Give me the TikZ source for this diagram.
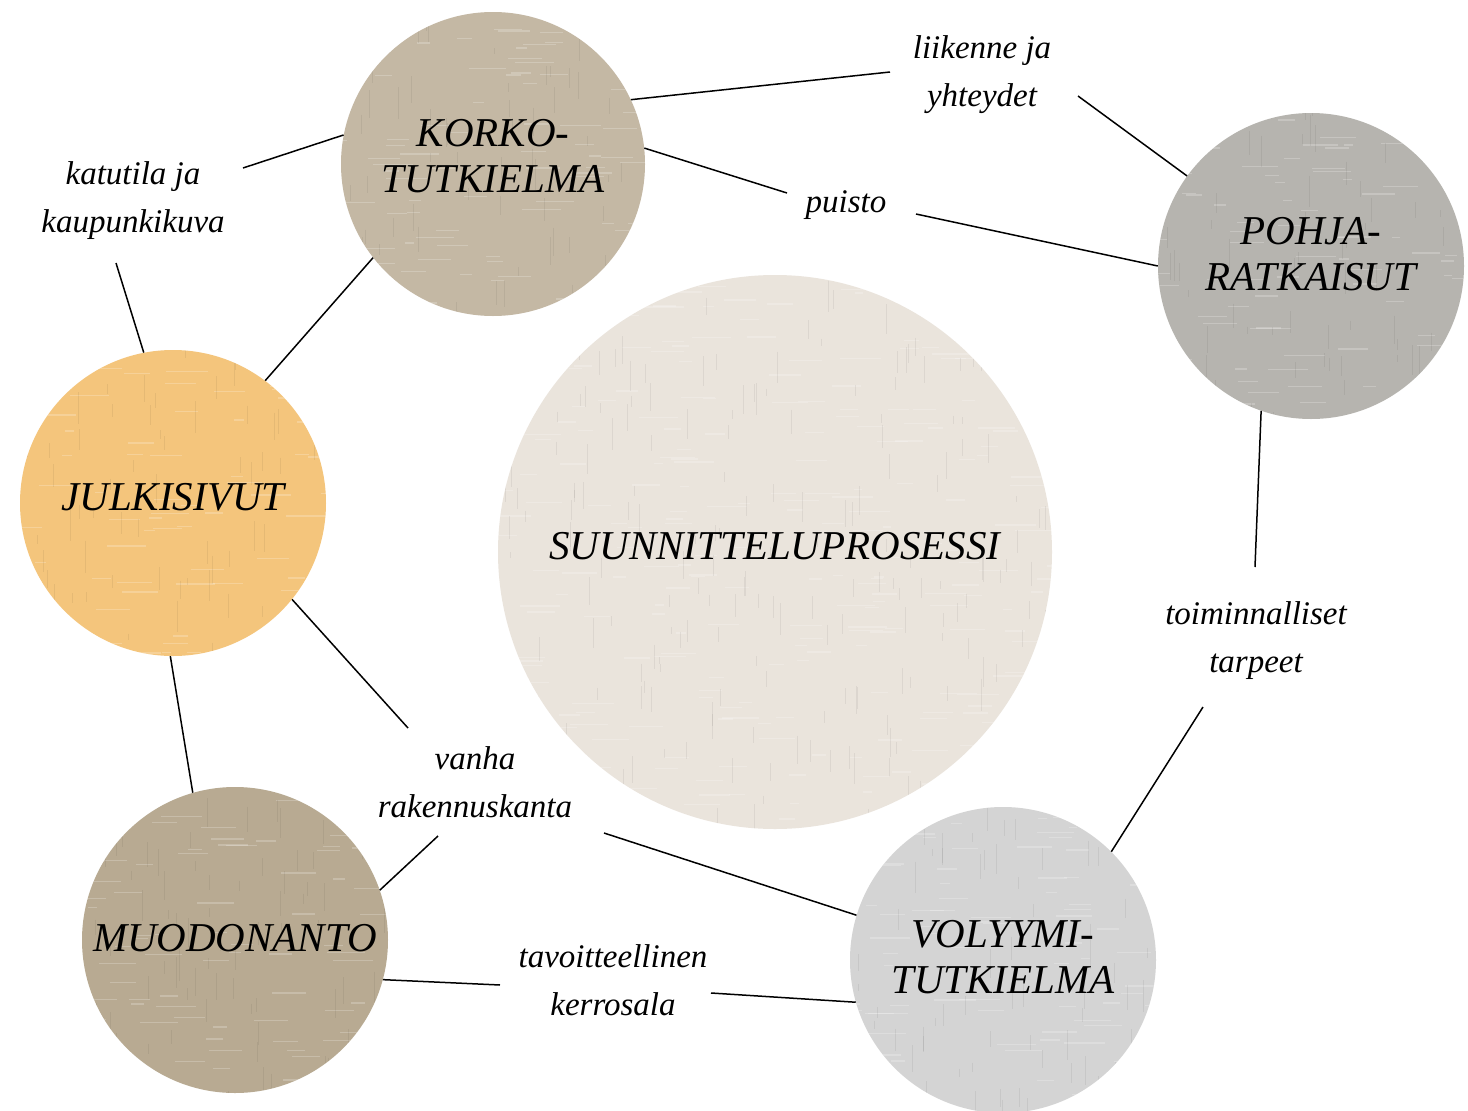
\documentclass[tikz,border=0pt]{standalone}
\usepackage{fontspec}
\setmainfont{Liberation Serif}
\definecolor{ckorko}{RGB}{196,184,164}
\definecolor{cpohja}{RGB}{182,180,175}
\definecolor{cjulk}{RGB}{244,197,124}
\definecolor{cmuod}{RGB}{184,170,146}
\definecolor{cvol}{RGB}{212,212,212}
\definecolor{csuun}{RGB}{234,228,220}
\begin{document}
\begin{tikzpicture}[x=1pt,y=-1pt,
  weave/.style={path picture={
    \pgfmathsetseed{#1}
    \foreach \i in {1,...,260}{
      \pgfmathsetmacro\xx{rand*280}\pgfmathsetmacro\yy{rand*280}\pgfmathsetmacro\ll{8+34*rnd}
      \draw[white, opacity=0.22, line width=1.3pt]
        ([shift={(\xx,\yy)}]path picture bounding box.center) -- ++(\ll,0);
    }
    \foreach \i in {1,...,220}{
      \pgfmathsetmacro\xx{rand*280}\pgfmathsetmacro\yy{rand*280}\pgfmathsetmacro\ll{6+26*rnd}
      \draw[black, opacity=0.06, line width=1pt]
        ([shift={(\xx,\yy)}]path picture bounding box.center) -- ++(0,\ll);
    }
  }},
  hub/.style={circle, inner sep=0pt, minimum size=#1},
  hubtext/.style={align=center, inner sep=0pt, font=\fontsize{41}{46}\selectfont\itshape},
  lab/.style={inner sep=0pt, align=center, font=\fontsize{33}{48}\selectfont\itshape},
  conn/.style={line width=1.5pt, draw=black}]
\useasboundingbox[fill=white] (0,0) rectangle (1468,1111);
% hubs
\node[hub=554pt, fill=csuun, weave=11,
  label={[hubtext, yshift=6pt]center:SUUNNITTELUPROSESSI}] (suun) at (775,552) {};
\node[hub=304pt, fill=ckorko, weave=12,
  label={[hubtext, yshift=8pt]center:KORKO-\\TUTKIELMA}] (korko) at (493,164) {};
\node[hub=306pt, fill=cpohja, weave=13,
  label={[hubtext, yshift=12pt]center:POHJA-\\RATKAISUT}] (pohja) at (1311,266) {};
\node[hub=306pt, fill=cjulk, weave=14,
  label={[hubtext, yshift=6pt]center:JULKISIVUT}] (julk) at (173,503) {};
\node[hub=306pt, fill=cmuod, weave=15,
  label={[hubtext, yshift=2pt]center:MUODONANTO}] (muod) at (235,940) {};
\node[hub=306pt, fill=cvol, weave=16,
  label={[hubtext, yshift=3pt]center:VOLYYMI-\\TUTKIELMA}] (vol) at (1003,960) {};
% labels
\node[lab] (liik) at (982,75) {liikenne ja\\yhteydet};
\node[lab] (puisto) at (846,205) {puisto};
\node[lab] (katu) at (133,201) {katutila ja\\kaupunkikuva};
\node[lab] (toim) at (1256,641) {toiminnalliset\\tarpeet};
\node[lab] (vanha) at (475,782) {vanha\\rakennuskanta};
\node[lab] (tav) at (613,980) {tavoitteellinen\\kerrosala};
% free ends near labels
\coordinate (liikW) at (890,72);
\coordinate (liikE) at (1078,96);
\coordinate (puistoW) at (787,193);
\coordinate (puistoE) at (916,214);
\coordinate (katuE) at (243,168);
\coordinate (katuS) at (116,263);
\coordinate (toimN) at (1255,567);
\coordinate (toimS) at (1203,707);
\coordinate (vanhaN) at (408,728);
\coordinate (vanhaSW) at (438,836);
\coordinate (vanhaSE) at (604,833);
\coordinate (tavW) at (500,985);
\coordinate (tavE) at (711,993);
% connectors
\draw[conn] (korko.25.7) -- (liikW);
\draw[conn] (liikE) -- (pohja.144.5);
\draw[conn] (korko.6) -- (puistoW);
\draw[conn] (puistoE) -- (pohja.180);
\draw[conn] (katuE) -- (korko.169);
\draw[conn] (katuS) -- (julk.101);
\draw[conn] (korko.218.7) -- (julk.53);
\draw[conn] (pohja.251.7) -- (toimN);
\draw[conn] (toimS) -- (vol.45.8);
\draw[conn] (julk.321) -- (vanhaN);
\draw[conn] (vanhaSW) -- (muod.19.7);
\draw[conn] (vanhaSE) -- (vol.163);
\draw[conn] (julk.269) -- (muod.106.9);
\draw[conn] (muod.345.2) -- (tavW);
\draw[conn] (tavE) -- (vol.196.7);
\end{tikzpicture}
\end{document}
